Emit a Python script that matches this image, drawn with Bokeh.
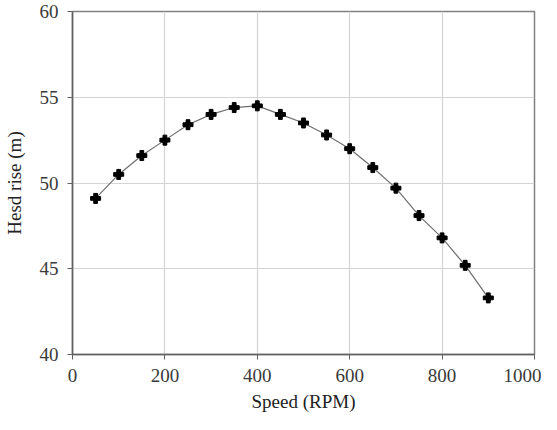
from bokeh.plotting import figure
from bokeh.models import Range1d, FixedTicker
from bokeh.embed import file_html
from bokeh.resources import INLINE

speed = [50, 100, 150, 200, 250, 300, 350, 400, 450, 500, 550, 600, 650, 700, 750, 800, 850, 900]
head = [49.1, 50.5, 51.6, 52.5, 53.4, 54.0, 54.4, 54.5, 54.0, 53.5, 52.8, 52.0, 50.9, 49.7, 48.1, 46.8, 45.2, 43.3]
x_ticks = [0, 200, 400, 600, 800, 1000]
y_ticks = [40, 45, 50, 55, 60]

FONT = "Liberation Serif"

p = figure(width=541, height=414, output_backend="svg", toolbar_location=None,
           x_range=Range1d(0, 1000), y_range=Range1d(40, 60))
p.min_border_left = 14
p.min_border_right = 7
p.min_border_top = 11
p.min_border_bottom = 10

p.line(speed, head, line_color="#6e6e6e", line_width=1.2)
p.scatter(speed, head, marker="plus", size=10, fill_color="black", line_color="black")
p.scatter(speed, head, marker="circle", size=6, fill_color="black", line_color="black")

p.outline_line_color = "#808080"
p.outline_line_width = 1.5

for ax in (p.xaxis[0], p.yaxis[0]):
    ax.axis_line_color = "#606060"
    ax.axis_line_width = 1.5
    ax.major_tick_line_color = "#606060"
    ax.major_tick_in = 0
    ax.major_tick_out = 5
    ax.minor_tick_line_color = None
    ax.major_label_text_font = FONT
    ax.major_label_text_font_size = "19px"
    ax.major_label_text_color = "#3a3a3a"
    ax.axis_label_text_font = FONT
    ax.axis_label_text_font_size = "19px"
    ax.axis_label_text_font_style = "normal"
    ax.axis_label_text_color = "#222222"
    ax.major_label_standoff = 9

p.xaxis.ticker = FixedTicker(ticks=x_ticks)
p.yaxis.ticker = FixedTicker(ticks=y_ticks)
p.xaxis.axis_label = "Speed (RPM)"
p.yaxis.axis_label = "Hesd rise (m)"
p.xaxis.axis_label_standoff = 6
p.yaxis.axis_label_standoff = 12

p.xgrid.grid_line_color = "#d4d4d4"
p.ygrid.grid_line_color = "#d4d4d4"
p.xgrid.grid_line_width = 1.2
p.ygrid.grid_line_width = 1.2

open("out.html", "w").write(file_html(p, INLINE))
